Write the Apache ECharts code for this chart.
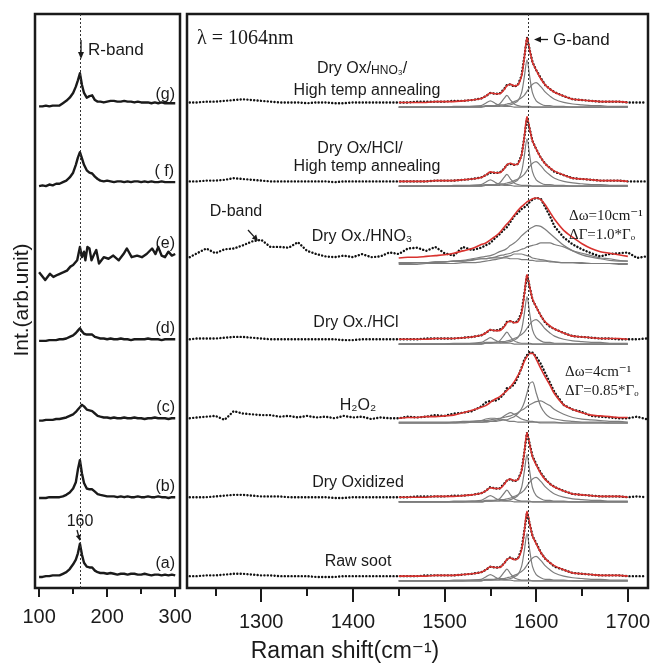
<!DOCTYPE html>
<html>
<head>
<meta charset="utf-8">
<title>Raman spectra - RBM and G-band</title>
<script src="https://cdn.jsdelivr.net/npm/echarts@6/dist/echarts.min.js"></script>
<style>
  html, body { margin: 0; padding: 0; background: #fff; }
  #chart { width: 655px; height: 664px; }
</style>
</head>
<body>
<div id="chart"></div>
<script>
// ---- left panel: R-band (RBM) region, Raman shift in cm-1 ----
const rbmX = [100,105,110,115,120,125,130,135,140,145,150,154,157,160,163,166,170,174,178,182,186,190,
  195,200,205,210,215,220,225,230,235,240,245,250,255,260,265,270,275,280,285,290,295,300];
const rbmA = [-1,-1,0,0,1,1,1,3,5,9,15,21,29,41,27,17,12,11,11,7,5,4,
  4,3,4,3,2,3,3,2,3,3,2,2,3,2,1,2,2,1,2,1,2,1];
const rbmB = [-1,-1,-1,0,0,0,0,1,3,6,11,19,35,47,30,18,11,10,10,7,4,3,
  2,1,1,1,0,1,0,1,0,0,1,0,0,1,0,0,1,0,0,-1,0,0];
const rbmC = [-3,-3,-2,-2,-2,-1,-1,0,1,3,5,8,11,14,17,15,11,10,9,6,3,2,
  1,1,0,1,0,0,1,0,0,1,0,0,-1,0,0,1,0,0,0,-1,0,0];
const rbmD = [-2,-2,-2,-1,-1,-1,0,0,1,3,5,8,11,14,10,7,6,6,6,3,2,1,
  1,0,1,0,0,1,0,0,-1,0,0,0,0,1,0,0,0,-1,0,0,0,0];
// (e) is noisy, sampled on its own points
const rbmEX = [100,109,116,121,128,136,141,146,150,156,160,163,166,168,171,174,177,181,184,188,
  195,202,209,217,224,229,236,244,251,258,266,271,275,280,285,290,295,300];
const rbmE = [-15,-25,-17,-21,-18,-15,-13,-8,-6,0,17,4,11,0,17,15,0,8,13,-4,
  4,2,6,0,8,15,4,6,4,8,15,8,17,6,4,11,6,8];
const rbmF = [-6,-5,-6,-4,-5,-3,-3,-1,1,5,11,21,30,37,29,21,14,11,10,6,3,1,
  0,1,0,-1,0,0,-1,0,-1,0,0,-1,0,-1,0,-1,-1,0,-1,-1,-1,-1];
const rbmG = [-5,-5,-4,-5,-4,-4,-4,-1,2,6,12,20,28,37,22,12,6,8,9,3,1,1,
  0,1,2,2,1,1,2,1,1,0,1,0,0,0,-1,0,-1,0,-1,-1,-1,-1];
const rbmLabels = ['(a)', '(b)', '(c)', '(d)', '(e)', '( f)', '(g)'];

// vertical offsets of the stacked traces (same for both panels, bottom to top)
const stackOffsets = [0, 100, 200, 300, 400, 500, 600];

// ---- right panel: D/G-band region ----
const ramanX = [1222,1230,1240,1250,1260,1270,1280,1290,1300,1310,1320,1330,1340,1350,1360,1370,1380,1390,1400,1410,1420,1430,1440,
  1450,1460,1470,1480,1490,1500,1510,1520,1530,1540,1545,1550,1555,1560,1565,1568,1572,1576,1580,1584,1587,1590,1593,1596,1600,
  1605,1610,1615,1620,1630,1640,1650,1660,1670,1680,1690,1700,1710,1720];
const fitX = [1450,1460,1470,1480,1490,1500,1510,1520,1530,1540,1545,1550,1555,1560,1565,1568,1572,1576,1580,1584,1587,1590,1593,1596,1600,
  1605,1610,1615,1620,1630,1640,1650,1660,1670,1680,1690,1700];

// measured spectra (dots)
const sootDots = [0,0,1,1,2,3,3,2,1,1,0,0,0,0,-1,-1,-1,0,0,0,0,0,0,
  0,0,0,1,1,1,1,2,3,5,8,12,11,11,16,21,24,21,22,34,57,80,66,51,42,30,22,17,12,8,4,3,2,1,1,1,0,0,0];
const dryOxDots = [0,0,0,1,2,3,3,2,1,1,1,0,0,0,0,0,-1,-1,0,0,0,0,0,
  0,0,1,1,1,1,2,2,3,5,8,13,11,11,17,21,23,20,22,33,56,82,67,52,42,31,23,17,13,8,4,3,2,1,1,1,0,1,0];
const h2o2Dots = [0,1,2,3,-2,9,6,5,4,4,2,3,1,3,1,2,0,3,1,2,-1,1,0,
  0,2,1,2,4,3,6,7,9,15,20,22,22,25,31,38,39,43,52,64,74,80,84,83,78,69,57,45,33,17,11,8,3,2,1,0,0,2,-1];
const hclDots = [0,1,1,1,2,3,3,2,1,0,0,0,0,0,0,0,0,-1,-1,0,0,0,0,
  0,0,0,1,1,1,1,2,3,5,8,12,11,12,16,22,23,21,23,34,57,81,66,50,41,30,21,16,13,8,4,3,2,1,1,0,0,0,1];
const hno3Dots = [4,9,15,9,14,15,19,24,26,17,17,16,23,12,8,5,4,6,4,8,4,5,10,
  8,15,16,12,17,9,6,17,13,16,19,22,28,33,39,42,49,56,60,65,67,70,74,77,79,78,67,56,43,29,20,14,9,5,8,9,10,3,5];
const hclAnnDots = [0,0,1,1,2,4,3,2,1,0,0,0,0,0,0,0,-1,0,0,0,0,0,0,
  0,0,0,0,1,1,1,2,3,5,8,11,11,11,16,21,22,21,22,33,55,80,66,51,41,30,22,17,12,8,4,3,2,1,1,1,0,0,0];
const hno3AnnDots = [0,0,1,1,2,3,4,3,2,1,0,0,0,-1,0,0,-1,-1,0,0,0,0,0,
  0,0,1,1,1,1,2,2,3,5,8,12,11,11,17,22,23,20,22,34,57,82,66,51,41,31,22,17,13,8,4,3,2,1,1,1,0,0,0];

// fitted curves (red) and Lorentzian components (gray), on fitX
const sharpFit = [0,0,0,0,1,1,1,2,3,5,8,12,11,11,16,21,23,21,22,33,56,82,66,51,41,30,22,17,13,8,4,3,2,1,1,1,0];
const sharp1550 = [-6,-6,-6,-6,-6,-6,-6,-6,-5,-4,-1,2,-1,-4,-5,-5,-5,-6,-6,-6,-6,-6,-6,-6,-6,-6,-6,-6,-6,-6,-6,-6,-6,-6,-6,-6,-6];
const sharp1568 = [-6,-6,-6,-6,-6,-6,-6,-6,-6,-6,-5,-5,-4,-2,5,9,3,-2,-4,-5,-5,-5,-5,-6,-6,-6,-6,-6,-6,-6,-6,-6,-6,-6,-6,-6,-6];
const sharp1590 = [-6,-6,-6,-6,-6,-6,-6,-6,-6,-6,-5,-5,-5,-5,-4,-4,-3,-1,2,12,32,54,32,12,2,-2,-4,-4,-5,-5,-6,-6,-6,-6,-6,-6,-6];
const sharp1600 = [-6,-6,-6,-6,-6,-6,-5,-5,-5,-5,-4,-4,-4,-3,-3,-2,-1,1,3,6,9,14,19,23,25,20,13,8,4,0,-2,-3,-4,-4,-5,-5,-5];

const h2o2Fit = [0,1,1,2,2,3,4,7,10,14,16,20,24,27,32,35,40,46,54,63,72,78,82,82,75,63,52,42,31,17,11,7,4,3,2,1,1];
const h2o2C1 = [-6,-6,-6,-6,-6,-6,-5,-5,-4,-3,-1,0,0,-1,-2,-3,-4,-4,-5,-5,-5,-5,-5,-5,-5,-6,-6,-6,-6,-6,-6,-6,-6,-6,-6,-6,-6];
const h2o2C2 = [-6,-6,-6,-6,-6,-6,-6,-6,-5,-5,-4,-4,-3,-1,3,5,7,5,2,-1,-2,-3,-4,-4,-5,-5,-5,-5,-5,-6,-6,-6,-6,-6,-6,-6,-6];
const h2o2C3 = [-6,-6,-6,-6,-6,-6,-6,-5,-5,-5,-5,-4,-4,-3,-2,-2,0,2,6,12,20,32,44,46,32,15,6,1,-1,-3,-4,-5,-5,-5,-6,-6,-6];
const h2o2C4 = [-5,-5,-5,-5,-5,-5,-5,-4,-4,-3,-3,-2,-1,0,1,2,3,5,7,10,12,15,17,19,21,22,19,16,11,5,1,-1,-2,-3,-4,-4,-5];

const hno3Fit = [3,4,4,5,6,7,9,12,15,20,22,26,30,35,42,46,51,57,63,68,71,74,76,78,79,77,70,61,52,38,29,21,15,11,9,7,5];
const hno3C1 = [-3,-3,-3,-3,-2,-2,-1,0,2,4,5,6,8,11,13,15,19,22,26,31,34,37,40,42,44,43,39,34,29,19,12,7,4,2,0,-1,-1];
const hno3C2 = [-3,-3,-3,-3,-2,-2,-1,-1,0,2,2,3,4,6,7,8,9,11,12,14,15,17,18,19,20,22,22,22,20,17,12,9,6,3,2,0,-1];
const hno3C3 = [-5,-5,-5,-4,-4,-4,-4,-3,-3,-2,-1,0,1,2,4,5,6,8,8,8,7,6,5,3,2,1,0,-1,-2,-3,-3,-4,-4,-4,-4,-5,-5];
const hno3C4 = [-4,-4,-3,-3,-3,-2,-1,-1,1,2,2,3,3,3,3,3,2,2,2,1,1,1,0,0,-1,-1,-1,-2,-2,-3,-3,-3,-4,-4,-4,-4,-4];

// bottom to top, same order as stackOffsets
const gSpectra = [
  { dots: sootDots,    fit: sharpFit, comps: [sharp1550, sharp1568, sharp1590, sharp1600] },
  { dots: dryOxDots,   fit: sharpFit, comps: [sharp1550, sharp1568, sharp1590, sharp1600] },
  { dots: h2o2Dots,    fit: h2o2Fit,  comps: [h2o2C1, h2o2C2, h2o2C3, h2o2C4] },
  { dots: hclDots,     fit: sharpFit, comps: [sharp1550, sharp1568, sharp1590, sharp1600] },
  { dots: hno3Dots,    fit: hno3Fit,  comps: [hno3C1, hno3C2, hno3C3, hno3C4] },
  { dots: hclAnnDots,  fit: sharpFit, comps: [sharp1550, sharp1568, sharp1590, sharp1600] },
  { dots: hno3AnnDots, fit: sharpFit, comps: [sharp1550, sharp1568, sharp1590, sharp1600] }
];

const SANS = '"Liberation Sans", Arial, "DejaVu Sans", sans-serif';
const SERIF = '"Liberation Serif", "Times New Roman", "DejaVu Serif", serif';
const INK = '#1a1a1a';

function stacked(xs, ys, off) {
  return xs.map((x, i) => [x, ys[i] + off]);
}

const series = [];

// left traces (grid 0: xAxis 0, yAxis 0)
const rbmSets = [[rbmX, rbmA], [rbmX, rbmB], [rbmX, rbmC], [rbmX, rbmD], [rbmEX, rbmE], [rbmX, rbmF], [rbmX, rbmG]];
rbmSets.forEach(([xs, ys], i) => {
  series.push({
    type: 'line', xAxisIndex: 0, yAxisIndex: 0,
    data: stacked(xs, ys, stackOffsets[i]),
    showSymbol: false, silent: true, z: 3,
    lineStyle: { color: INK, width: 2.4, join: 'round' }
  });
});

// right traces (grid 1: xAxis 1, yAxis 1)
gSpectra.forEach((s, i) => {
  const off = stackOffsets[i];
  s.comps.forEach(c => {
    series.push({
      type: 'line', xAxisIndex: 1, yAxisIndex: 1,
      data: stacked(fitX, c, off), smooth: 0.3,
      showSymbol: false, silent: true, z: 2,
      lineStyle: { color: '#7d7d7d', width: 1.2 }
    });
  });
  series.push({
    type: 'line', xAxisIndex: 1, yAxisIndex: 1,
    data: stacked(ramanX, s.dots, off),
    showSymbol: false, silent: true, z: 3,
    lineStyle: { color: '#111', width: 2.4, type: [0.1, 3.3], cap: 'round' }
  });
  series.push({
    type: 'line', xAxisIndex: 1, yAxisIndex: 1,
    data: stacked(fitX, s.fit, off), smooth: 0.3,
    showSymbol: false, silent: true, z: 4,
    lineStyle: { color: '#d8322e', width: 1.6 }
  });
});

// dotted guide lines at the R-band and G-band positions
const guide = {
  silent: true, symbol: ['none', 'none'], label: { show: false },
  lineStyle: { type: [2, 2], color: '#333', width: 1 }
};
series[0].markLine = Object.assign({ data: [{ xAxis: 160 }] }, guide);
series[7].markLine = Object.assign({ data: [{ xAxis: 1591 }] }, guide);

function txt(x, y, text, font, align, extra) {
  return Object.assign({
    type: 'text', x: x, y: y, z: 100, silent: true,
    style: {
      text: text, font: font, fill: INK,
      textAlign: align, textVerticalAlign: 'middle'
    }
  }, extra || {});
}
function seg(x1, y1, x2, y2) {
  return { type: 'line', z: 100, silent: true, shape: { x1, y1, x2, y2 }, style: { stroke: INK, lineWidth: 1.3 } };
}
function head(points) {
  return { type: 'polygon', z: 100, silent: true, shape: { points }, style: { fill: INK } };
}

const labelY = [564, 487, 408, 329, 244, 172, 95];
const graphics = [
  // left panel
  txt(88, 50, 'R-band', '17px ' + SANS, 'left'),
  seg(81, 40, 81, 53), head([[78, 52], [84, 52], [81, 59]]),
  txt(80, 522, '160', '16px ' + SANS, 'center'),
  seg(77, 530, 78.6, 536), head([[80, 541], [75.9, 535.9], [80.7, 534.5]]),
  // right panel
  txt(197, 39, 'λ = 1064nm', '20px ' + SERIF, 'left'),
  {
    type: 'text', x: 362, y: 69, z: 100, silent: true,
    style: {
      text: '{a|Dry Ox/}{s|HNO₃}{a|/}', fill: INK, textAlign: 'center', textVerticalAlign: 'middle',
      rich: {
        a: { font: '16px ' + SANS, fill: INK },
        s: { font: '12px ' + SANS, fill: INK, verticalAlign: 'bottom' }
      }
    }
  },
  txt(367, 91, 'High temp annealing', '16px ' + SANS, 'center'),
  txt(360, 149, 'Dry Ox/HCl/', '16px ' + SANS, 'center'),
  txt(367, 167, 'High temp annealing', '16px ' + SANS, 'center'),
  txt(236, 212, 'D-band', '16px ' + SANS, 'center'),
  seg(248, 230, 254, 236.6), head([[258, 241], [251.8, 238.6], [256.2, 234.6]]),
  txt(362, 237, 'Dry Ox./HNO₃', '16px ' + SANS, 'center'),
  txt(356, 323, 'Dry Ox./HCl', '16px ' + SANS, 'center'),
  txt(358, 406, 'H₂O₂', '16px ' + SANS, 'center'),
  txt(358, 483, 'Dry Oxidized', '16px ' + SANS, 'center'),
  txt(358, 562, 'Raw soot', '16px ' + SANS, 'center'),
  txt(553, 40, 'G-band', '17px ' + SANS, 'left'),
  seg(548, 39.5, 540, 39.5), head([[541, 36.5], [541, 42.5], [534, 39.5]]),
  txt(569, 216, 'Δω=10cm⁻¹', '15px ' + SERIF, 'left'),
  txt(569, 235, 'ΔΓ=1.0*Γₒ', '15px ' + SERIF, 'left'),
  txt(565, 372, 'Δω=4cm⁻¹', '15px ' + SERIF, 'left'),
  txt(565, 391, 'ΔΓ=0.85*Γₒ', '15px ' + SERIF, 'left'),
  // axis titles
  txt(345, 652, 'Raman shift(cm⁻¹)', '23px ' + SANS, 'center'),
  txt(22, 300, 'Int.(arb.unit)', '21px ' + SANS, 'center', { rotation: Math.PI / 2 })
];
rbmLabels.forEach((lab, i) => {
  graphics.push(txt(lab === '( f)' ? 174 : 175, labelY[i], lab, '16px ' + SANS, 'right'));
});

function majorAxis(grid, min, max, ticks, len, margin) {
  return {
    type: 'value', gridIndex: grid, min: min, max: max, position: 'bottom',
    axisLine: { show: false, onZero: false },
    splitLine: { show: false },
    axisTick: { show: true, inside: false, customValues: ticks, length: len, lineStyle: { color: INK, width: 2 } },
    axisLabel: {
      show: true, customValues: ticks, margin: margin, color: INK,
      fontSize: 20, fontFamily: '"Liberation Sans", Arial, sans-serif',
      formatter: v => String(v)
    }
  };
}
function minorAxis(grid, min, max, ticks, len) {
  return {
    type: 'value', gridIndex: grid, min: min, max: max, position: 'bottom',
    axisLine: { show: false, onZero: false },
    splitLine: { show: false },
    axisTick: { show: true, inside: false, customValues: ticks, length: len, lineStyle: { color: INK, width: 2 } },
    axisLabel: { show: false }
  };
}

const chart = echarts.init(document.getElementById('chart'), null, { renderer: 'canvas' });
chart.setOption({
  animation: false,
  backgroundColor: '#fff',
  grid: [
    { left: 35, top: 14, width: 145, height: 574, show: true, borderColor: INK, borderWidth: 2.5 },
    { left: 187, top: 14, width: 461, height: 574, show: true, borderColor: INK, borderWidth: 2.5 }
  ],
  xAxis: [
    majorAxis(0, 94, 307, [100, 200, 300], 9, 19),
    majorAxis(1, 1219, 1722, [1300, 1400, 1500, 1600, 1700], 14, 24),
    minorAxis(0, 94, 307, [150, 250], 6),
    minorAxis(1, 1219, 1722, [1250, 1350, 1450, 1550, 1650], 8)
  ],
  yAxis: [
    { type: 'value', gridIndex: 0, min: -15, max: 712, show: false },
    { type: 'value', gridIndex: 1, min: -15, max: 712, show: false }
  ],
  graphic: graphics,
  series: series
});
</script>
</body>
</html>
